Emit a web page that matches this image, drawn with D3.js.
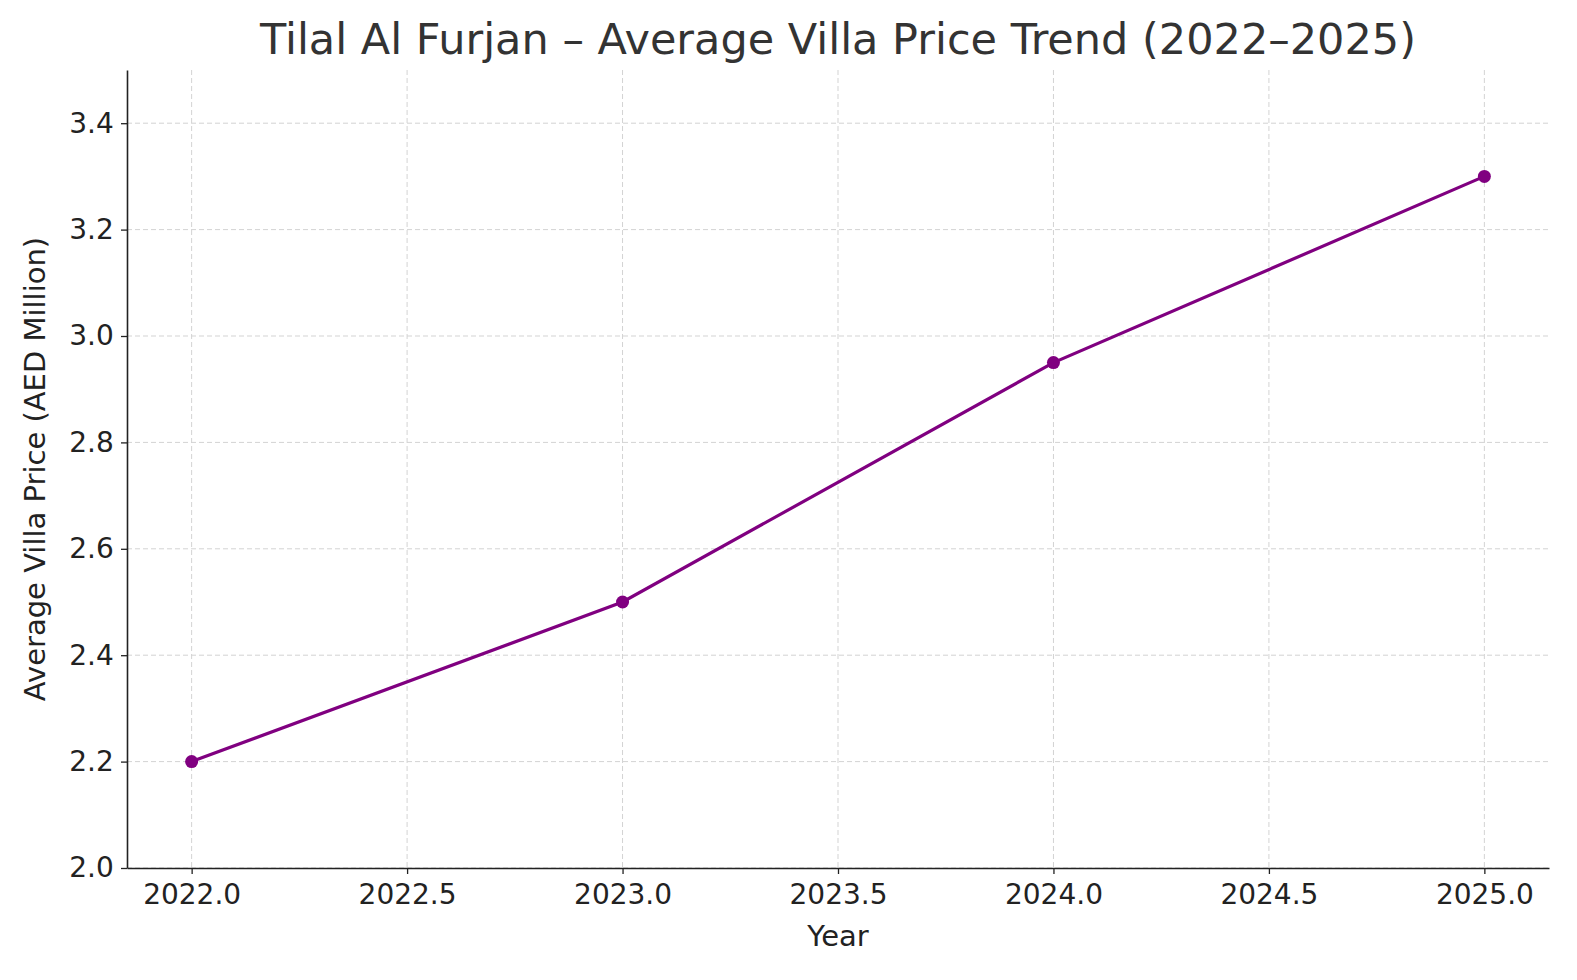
<!DOCTYPE html>
<html><head><meta charset="utf-8">
<script src="https://cdn.jsdelivr.net/npm/d3@7"></script>
<style>body{margin:0;background:#fff}text{font-family:"DejaVu Sans",sans-serif}</style>
</head><body><svg id="c" width="1577" height="980"></svg>
<script>
const years = [2022, 2023, 2024, 2025];
const prices = [2.2, 2.5, 2.95, 3.3];
const xTicks = [2022.0, 2022.5, 2023.0, 2023.5, 2024.0, 2024.5, 2025.0];
const yTicks = [2.0, 2.2, 2.4, 2.6, 2.8, 3.0, 3.2, 3.4];

const svg = d3.select("#c");
const L = 127, R = 1549, T = 70, B = 868;
const x = d3.scaleLinear().domain([2021.85, 2025.15]).range([L, R]);
const y = d3.scaleLinear().domain([2.0, 3.5]).range([B, T]);

const g = svg.append("g");
g.selectAll(".gx").data(xTicks).enter().append("line")
  .attr("x1", d => x(d)).attr("x2", d => x(d)).attr("y1", T).attr("y2", B)
  .attr("stroke", "#d3d3d3").attr("stroke-width", 1).attr("stroke-dasharray", "5,3");
g.selectAll(".gy").data(yTicks).enter().append("line")
  .attr("y1", d => y(d)).attr("y2", d => y(d)).attr("x1", L).attr("x2", R)
  .attr("stroke", "#d3d3d3").attr("stroke-width", 1).attr("stroke-dasharray", "5,3");

const xa = svg.append("g").attr("transform", `translate(0,${B})`)
  .call(d3.axisBottom(x).tickValues(xTicks).tickFormat(d3.format(".1f")).tickSize(6).tickSizeOuter(0));
const ya = svg.append("g").attr("transform", `translate(${L},0)`)
  .call(d3.axisLeft(y).tickValues(yTicks).tickFormat(d3.format(".1f")).tickSize(6).tickSizeOuter(0));
[xa, ya].forEach(a => {
  a.attr("font-size", null).attr("font-family", null);
  a.selectAll("text").style("font-size", "28px").attr("fill", "#222").style("font-family", "DejaVu Sans");
  a.select(".domain").attr("stroke", "#222").attr("stroke-width", 1.6);
  a.selectAll(".tick line").attr("stroke", "#222").attr("stroke-width", 1.3);
});
xa.selectAll("text").attr("dy", "0.95em");
ya.selectAll("text").attr("dx", "-0.15em");

const pts = years.map((d, i) => [d, prices[i]]);
svg.append("path").datum(pts)
  .attr("d", d3.line().x(d => x(d[0])).y(d => y(d[1])))
  .attr("fill", "none").attr("stroke", "#800080").attr("stroke-width", 3.2);
svg.selectAll(".pt").data(pts).enter().append("circle")
  .attr("cx", d => x(d[0])).attr("cy", d => y(d[1])).attr("r", 6.5).attr("fill", "#800080");

svg.append("text").attr("x", (L + R) / 2).attr("y", 54).attr("text-anchor", "middle")
  .style("font-size", "43px").attr("fill", "#333").text("Tilal Al Furjan – Average Villa Price Trend (2022–2025)");
svg.append("text").attr("x", (L + R) / 2).attr("y", 946).attr("text-anchor", "middle")
  .style("font-size", "29px").attr("fill", "#222").text("Year");
svg.append("text").attr("transform", `translate(45,${(T + B) / 2}) rotate(-90)`).attr("text-anchor", "middle")
  .style("font-size", "29px").attr("fill", "#222").text("Average Villa Price (AED Million)");
</script></body></html>
